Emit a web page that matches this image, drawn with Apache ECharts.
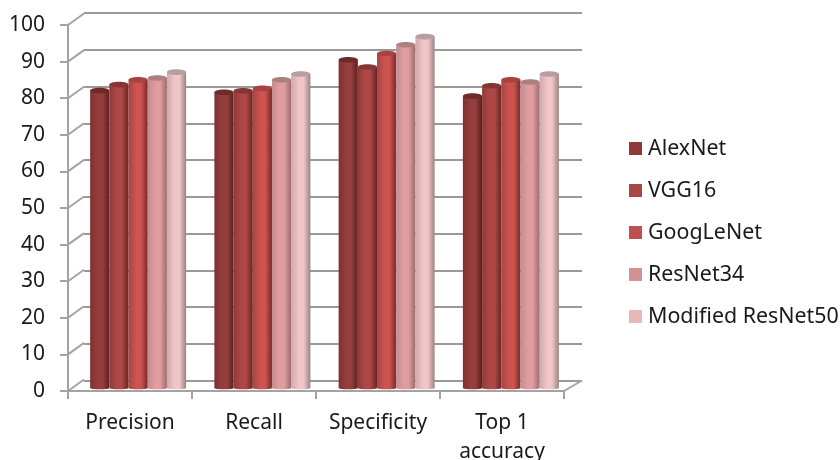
<!DOCTYPE html>
<html>
<head>
<meta charset="utf-8">
<style>html,body{margin:0;padding:0;background:#fff}#chart{width:840px;height:460px}</style>
<script src="https://cdn.jsdelivr.net/npm/echarts@6/dist/echarts.min.js"></script>
</head>
<body>
<div id="chart"></div>
<script>
const categories = ['Precision', 'Recall', 'Specificity', 'Top 1\naccuracy'];
const alexNet = [81.3, 80.8, 89.7, 79.8];
const vgg16 = [82.9, 81.2, 87.7, 82.6];
const googLeNet = [84.2, 81.9, 91.4, 84.2];
const resNet34 = [84.7, 84.2, 93.8, 83.6];
const modifiedResNet50 = [86.3, 85.8, 96.0, 85.8];
const valueTicks = [0, 10, 20, 30, 40, 50, 60, 70, 80, 90, 100];

const FONT = '"Noto Sans", sans-serif';
const AXIS_GREY = '#a3a3a3';
const GRID_GREY = '#999999';

// Each cylinder shade: left edge, centre, right edge, cap, legend swatch.
const seriesStyles = [
  { name: 'AlexNet', values: alexNet, stops: ['#7d3130', '#963e3d', '#5a2020'], cap: '#6e2928', swatch: '#8f3a39' },
  { name: 'VGG16', values: vgg16, stops: ['#8f3a39', '#ae4846', '#672625'], cap: '#853534', swatch: '#aa4644' },
  { name: 'GoogLeNet', values: googLeNet, stops: ['#a84543', '#cc5350', '#742c2b'], cap: '#a84240', swatch: '#c0504d' },
  { name: 'ResNet34', values: resNet34, stops: ['#c68c8d', '#e09ca0', '#9a6b6b'], cap: '#ad8080', swatch: '#d19392' },
  { name: 'Modified ResNet50', values: modifiedResNet50, stops: ['#cfaaab', '#f0c6c9', '#9c8282'], cap: '#b89e9e', swatch: '#e6b9b8' }
];

const BAR_RATIO = 0.1545;
const CAP_RY = 2.8;
const BASE_RY = 1.3;

function cylinderSeries(style, index) {
  return {
    type: 'custom',
    name: style.name,
    xAxisIndex: 2,
    yAxisIndex: 2,
    z: 5 + index,
    itemStyle: { color: style.swatch },
    encode: { x: 0, y: 1 },
    data: style.values.map((v, i) => [i, v]),
    renderItem(params, api) {
      const band = api.size([1, 0])[0];
      const w = band * BAR_RATIO;
      const top = api.coord([api.value(0), api.value(1)]);
      const base = api.coord([api.value(0), 0]);
      const x = top[0] + (index - 2) * w - w / 2;
      const fill = {
        type: 'linear', x: 0, y: 0, x2: 1, y2: 0,
        colorStops: [
          { offset: 0, color: style.stops[0] },
          { offset: 0.4, color: style.stops[1] },
          { offset: 0.65, color: style.stops[1] },
          { offset: 1, color: style.stops[2] }
        ]
      };
      return {
        type: 'group',
        children: [
          { type: 'ellipse', shape: { cx: x + w / 2, cy: base[1], rx: w / 2, ry: BASE_RY }, style: { fill } },
          { type: 'rect', shape: { x, y: top[1], width: w, height: base[1] - top[1] }, style: { fill } },
          { type: 'ellipse', shape: { cx: x + w / 2, cy: top[1], rx: w / 2, ry: CAP_RY }, style: { fill: style.cap } }
        ]
      };
    }
  };
}

// Short slanted segments joining the front axis to the back wall.
const wallLinks = {
  type: 'custom',
  xAxisIndex: 0,
  yAxisIndex: 0,
  silent: true,
  z: 1,
  encode: { y: 0 },
  data: valueTicks.map(v => [v]),
  renderItem(params, api) {
    const v = api.value(0);
    const y = api.coord([0, v])[1];
    const cs = params.coordSys;
    const lineStyle = { stroke: AXIS_GREY, lineWidth: 2, fill: null };
    const children = [
      { type: 'line', shape: { x1: cs.x, y1: y, x2: cs.x + 16, y2: y - 11.5 }, style: lineStyle }
    ];
    if (v === 0) {
      children.push({ type: 'line', shape: { x1: cs.x + cs.width, y1: y, x2: cs.x + cs.width + 18, y2: y - 10.5 }, style: lineStyle });
    }
    return { type: 'group', children };
  }
};

const chart = echarts.init(document.getElementById('chart'), null, { renderer: 'canvas' });
chart.setOption({
  animation: false,
  backgroundColor: '#ffffff',
  grid: [
    { left: 68, top: 25, width: 496, height: 366, outerBoundsMode: 'none' },
    { left: 84, top: 13, width: 498, height: 367.5, outerBoundsMode: 'none' },
    { left: 76, top: 22, width: 497, height: 366, outerBoundsMode: 'none' }
  ],
  legend: {
    orient: 'vertical',
    left: 629,
    top: 138,
    padding: 0,
    itemWidth: 13,
    itemHeight: 13,
    itemGap: 21,
    icon: 'rect',
    textStyle: { fontFamily: FONT, fontSize: 21.4, lineHeight: 21, color: '#1a1a1a', padding: [0, 0, 0, 1] },
    data: seriesStyles.map(s => s.name)
  },
  xAxis: [
    {
      type: 'category', gridIndex: 0, data: categories,
      axisLine: { lineStyle: { color: AXIS_GREY, width: 2 } },
      axisTick: { show: true, length: 8, lineStyle: { color: AXIS_GREY, width: 2 } },
      axisLabel: { fontFamily: FONT, fontSize: 21, color: '#1a1a1a', margin: 17.5, lineHeight: 29, interval: 0 }
    },
    { type: 'category', gridIndex: 1, data: categories, show: false },
    { type: 'category', gridIndex: 2, data: categories, show: false }
  ],
  yAxis: [
    {
      type: 'value', gridIndex: 0, min: 0, max: 100, interval: 10,
      axisLine: { show: true, lineStyle: { color: AXIS_GREY, width: 2 } },
      axisTick: { show: true, length: 8, lineStyle: { color: AXIS_GREY, width: 2 } },
      axisLabel: { fontFamily: FONT, fontSize: 21, color: '#1a1a1a', margin: 23 },
      splitLine: { show: false }
    },
    {
      type: 'value', gridIndex: 1, min: 0, max: 100, interval: 10,
      axisLine: { show: false }, axisTick: { show: false }, axisLabel: { show: false },
      splitLine: { show: true, lineStyle: { color: GRID_GREY, width: 2 } }
    },
    { type: 'value', gridIndex: 2, min: 0, max: 100, show: false, splitLine: { show: false } }
  ],
  series: [wallLinks].concat(seriesStyles.map(cylinderSeries))
});
</script>
</body>
</html>
